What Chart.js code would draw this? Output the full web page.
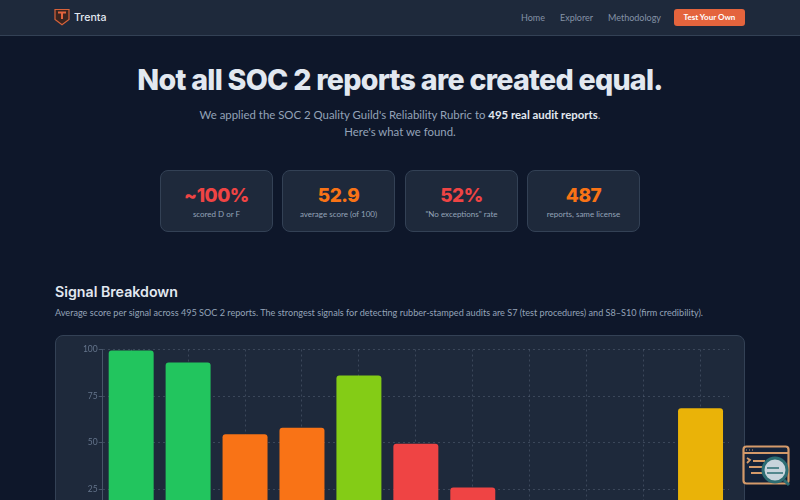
<!DOCTYPE html>
<html><head><meta charset="utf-8">
<script src="https://cdn.jsdelivr.net/npm/chart.js@4"></script>
<style>
*{box-sizing:border-box;margin:0;padding:0}
html,body{width:800px;height:500px;overflow:hidden;background:#0e172a;font-family:Lato,"Noto Sans",sans-serif}
.abs{position:absolute;white-space:nowrap}
nav{position:absolute;left:0;top:0;width:800px;height:36px;background:#1e293b;border-bottom:1px solid #334155}
.link{font-size:9px;color:#8492a6;top:12px}
.btn{left:674px;top:9px;width:71px;height:17px;background:#e4643d;border-radius:3px;color:#fff;font-size:8px;font-weight:700;text-align:center;line-height:17px}
h1{left:0;width:800px;top:62px;text-align:center;font-family:Inter;font-size:28.6px;font-weight:800;color:#e2e8f0;letter-spacing:-.72px}
.sub{left:0;width:800px;text-align:center;font-size:11.4px;color:#94a3b8}
.sub b{color:#e2e8f0;font-weight:700}
.stat{top:170px;height:62px;width:113px;background:#1e293b;border:1px solid #334155;border-radius:8px;text-align:center}
.stat .n{position:absolute;left:0;right:0;top:13px;font-family:Inter;font-size:19px;font-weight:800;letter-spacing:-.5px}
.stat .l{position:absolute;left:0;right:0;top:38px;font-size:8px;color:#94a3b8}
h2{left:55px;top:283px;font-family:Inter;font-size:14.2px;font-weight:600;color:#e2e8f0}
.desc{left:55px;top:307px;font-size:9.1px;color:#94a3b8}
.card{position:absolute;left:55px;top:335px;width:690px;height:260px;background:#1e293b;border:1px solid #334155;border-radius:8px}
#c{position:absolute;left:0;top:0}
</style></head><body>
<nav></nav>
<svg class="abs" style="left:54px;top:8px" width="16" height="18" viewBox="0 0 16 18"><path d="M1 1.5H15V11.5L8 16.8L1 11.5Z" fill="#3a2520" stroke="#d8623a" stroke-width="1.2"/><path d="M4 4.5H12M8 4.5V11" stroke="#e4643d" stroke-width="2" fill="none"/></svg>
<div class="abs" style="left:74px;top:11px;font-family:Inter;font-size:10.6px;font-weight:500;color:#e2e8f0">Trenta</div>
<div class="abs link" style="left:521px">Home</div>
<div class="abs link" style="left:560px">Explorer</div>
<div class="abs link" style="left:608px">Methodology</div>
<div class="abs btn">Test Your Own</div>
<h1 class="abs">Not all SOC 2 reports are created equal.</h1>
<div class="abs sub" style="top:108px">We applied the SOC 2 Quality Guild's Reliability Rubric to <b>495 real audit reports</b>.</div>
<div class="abs sub" style="top:125px">Here's what we found.</div>
<div class="abs stat" style="left:160px"><div class="n" style="color:#ef4444">~100%</div><div class="l">scored D or F</div></div>
<div class="abs stat" style="left:282px"><div class="n" style="color:#f97316">52.9</div><div class="l">average score (of 100)</div></div>
<div class="abs stat" style="left:405px"><div class="n" style="color:#ef4444">52%</div><div class="l">"No exceptions" rate</div></div>
<div class="abs stat" style="left:527px"><div class="n" style="color:#f97316">487</div><div class="l">reports, same license</div></div>
<h2 class="abs">Signal Breakdown</h2>
<div class="abs desc">Average score per signal across 495 SOC 2 reports. The strongest signals for detecting rubber-stamped audits are S7 (test procedures) and S8–S10 (firm credibility).</div>
<div class="card"><canvas id="c" width="688" height="224" style="width:688px;height:224px"></canvas></div>
<svg class="abs" style="left:741px;top:444px" width="52" height="46" viewBox="0 0 52 46"><rect x="2.5" y="2.5" width="45" height="37" rx="3" fill="#14233a" stroke="#d49a6a" stroke-width="2.2"/><path d="M3 9H47" stroke="#d49a6a" stroke-width="2"/><path d="M5 6H6M8 6H9M11 6H12" stroke="#d49a6a" stroke-width="1.2"/><path d="M6 14L9 16L6 19M12 17H24M8 23H24M10 29H24" stroke="#d49a6a" stroke-width="1.8" fill="none"/><circle cx="34" cy="26" r="12" fill="#c8d4dc" stroke="#2d6d73" stroke-width="3"/><path d="M26 24H38M26 29H42" stroke="#2d6d73" stroke-width="1.6"/><path d="M43 36L48 41" stroke="#2d6d73" stroke-width="3"/></svg>
<script>
const categories = ['S1','S2','S3','S4','S5','S6','S7','S8','S9','S10','S11'];
const scores = [99.5,93,54.5,58,86,49.5,26,12,10,8,68.5];
const barColors = ['#22c55e','#22c55e','#f97316','#f97316','#84cc16','#ef4444','#ef4444','#ef4444','#ef4444','#ef4444','#eab308'];
const yTicks = [0,25,50,75,100];
new Chart(document.getElementById('c'),{
  type:'bar',
  data:{labels:categories,datasets:[{data:scores,backgroundColor:barColors,borderRadius:3,borderSkipped:false,barPercentage:0.79,categoryPercentage:1}]},
  options:{
    responsive:false,animation:false,devicePixelRatio:1,
    layout:{padding:{top:13.5,right:15,bottom:4,left:0}},
    plugins:{legend:{display:false},tooltip:{enabled:false}},
    scales:{
      y:{min:0,max:100,afterBuildTicks(a){a.ticks=yTicks.map(v=>({value:v}));},afterFit(a){a.width=46.7;},
        ticks:{color:'#64748b',padding:1,font:{family:'Lato',size:8.5}},
        grid:{color:'rgba(148,163,184,.25)',tickLength:4,tickBorderDash:[],tickColor:'#475569'},
        border:{color:'#475569',dash:[2,3]}},
      x:{afterFit(a){a.height=20;},
        ticks:{color:'#64748b',font:{family:'Lato',size:8.5}},
        grid:{offset:false,color:'rgba(148,163,184,.25)'},
        border:{color:'#475569',dash:[2,3]}}
    }
  }
});
</script>
</body></html>
